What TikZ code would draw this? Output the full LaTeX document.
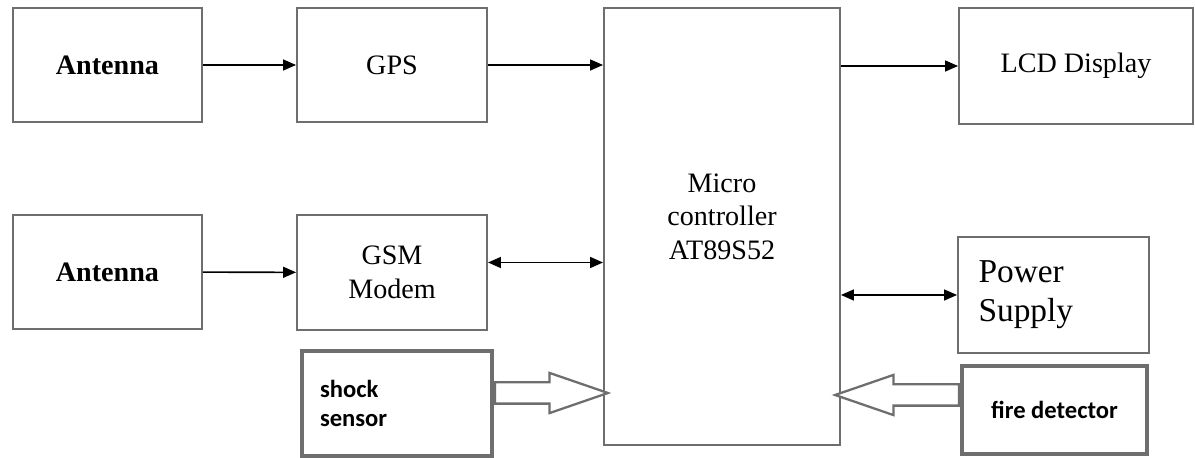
\documentclass[tikz,border=0pt]{standalone}
\usepackage{fontspec}
\setmainfont{Liberation Serif}
\newfontfamily\sensorfont{Carlito}
\usetikzlibrary{arrows.meta, positioning, calc, shapes.arrows}
\usepackage{xcolor}
\definecolor{boxgray}{HTML}{6E6E6E}
\def\blockw{3.8cm}
\def\blockh{2.28cm}

\begin{document}
\begin{tikzpicture}[>={Triangle[length=2.6mm,width=2.2mm]}, font=\fontsize{16}{19}\selectfont]
    \tikzstyle{block}=[rectangle, draw=boxgray, line width=1.1pt, minimum width=\blockw, minimum height=\blockh, inner sep=0pt, align=center]
    \tikzstyle{sensor}=[block, line width=2pt, font=\sensorfont\bfseries\fontsize{14}{16}\selectfont]
    \tikzstyle{link}=[draw=black, line width=0.9pt]
    \tikzstyle{hollow}=[single arrow, draw=boxgray, line width=1.3pt, fill=white, inner xsep=0pt, inner ysep=0.19cm, single arrow head extend=0.19cm, single arrow tip angle=38, anchor=tail]

    \useasboundingbox (0,0) rectangle (23.9,-9.16);

    % Draw the blocks on the left
    \node[block, minimum width=3.78cm] (ant1) at (2.15,-1.30) {\bfseries Antenna};
    \node[block] (gps) at (7.84,-1.30) {GPS};
    \node[block, minimum width=3.78cm] (ant2) at (2.15,-5.44) {\bfseries Antenna};
    \node[block, minimum height=2.3cm] (gsm) at (7.84,-5.45) {GSM\\Modem};
    \node[sensor, minimum height=2.1cm, text width=3.08cm, inner xsep=0.36cm, align=left] (shock) at (7.94,-8.07) {shock\\sensor};

    % Draw the microcontroller
    \node[block, minimum width=4.72cm, minimum height=8.74cm,
          label={[align=center, yshift=2mm]center:Micro\\controller\\AT89S52}] (mc) at (14.44,-4.53) {};

    % Draw the blocks on the right
    \node[block, minimum width=4.68cm, minimum height=2.32cm] (lcd) at (21.52,-1.32) {LCD Display};
    \node[block, minimum height=2.32cm, text width=3.0cm, inner xsep=0.41cm, align=left,
          font=\fontsize{19}{22}\selectfont] (power) at (21.07,-5.90) {Power\\Supply};
    \node[sensor, minimum width=3.7cm, minimum height=1.76cm] (fire) at (21.09,-8.20) {fire detector};

    % Connect the blocks
    \coordinate (gsm-out) at ([yshift=2mm]gsm.east);
    \coordinate (shock-out) at ([yshift=2.1mm]shock.east);
    \coordinate (fire-out) at ([yshift=3mm]fire.west);

    \draw[link,->] (ant1) -- (gps);
    \draw[link,->] (gps.east) -- (mc.west |- gps.east);
    \draw[link,->] (mc.east |- lcd.west) -- (lcd.west);
    \draw[link,->] (ant2) -- (gsm);
    \draw[link,<->] (gsm-out) -- (mc.west |- gsm-out);
    \draw[link,<->] (mc.east |- power.west) -- (power.west);

    % Hollow arrows from the sensors
    \node[hollow, minimum height=2.26cm] (shockarrow) at (shock-out) {};
    \node[hollow, minimum height=2.48cm, shape border rotate=180] (firearrow) at (fire-out) {};
\end{tikzpicture}
\end{document}
